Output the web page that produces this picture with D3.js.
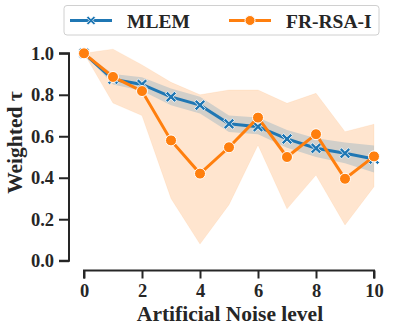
<!DOCTYPE html>
<html>
<head>
<meta charset="utf-8">
<script src="https://cdn.jsdelivr.net/npm/d3@7"></script>
<style>
  body { margin: 0; background: #fff; }
  svg { font-family: "Liberation Serif", "Times New Roman", serif; font-weight: bold; }
</style>
</head>
<body>
<svg id="chart" width="396" height="331"></svg>
<script>
// noise levels 0..10
var noise = [0, 1, 2, 3, 4, 5, 6, 7, 8, 9, 10];

var mlem = [1.0, 0.875, 0.85, 0.79, 0.75, 0.66, 0.646, 0.587, 0.542, 0.518, 0.49];
var mlemLo = [1.0, 0.85, 0.82, 0.75, 0.71, 0.62, 0.61, 0.545, 0.50, 0.47, 0.425];
var mlemHi = [1.0, 0.90, 0.885, 0.83, 0.79, 0.70, 0.69, 0.63, 0.59, 0.57, 0.555];

var frrsa = [1.0, 0.886, 0.818, 0.58, 0.42, 0.547, 0.69, 0.50, 0.61, 0.395, 0.503];
var frrsaLo = [1.0, 0.76, 0.70, 0.30, 0.08, 0.27, 0.558, 0.25, 0.413, 0.172, 0.357];
var frrsaHi = [1.0, 1.02, 0.944, 0.86, 0.80, 0.823, 0.823, 0.759, 0.807, 0.622, 0.658];

var xTicks = [0, 2, 4, 6, 8, 10];
var yTicks = [0.0, 0.2, 0.4, 0.6, 0.8, 1.0];

var blue = "#1f77b4", orange = "#ff7f0e", ink = "#262626";

var svg = d3.select("#chart");

var x = d3.scaleLinear().domain([0, 10]).range([84, 374]);
var y = d3.scaleLinear().domain([0, 1]).range([260.7, 53.3]);

// bands
var area = function(lo, hi) {
    return d3.area()
        .x(function(d, i) { return x(noise[i]); })
        .y0(function(d, i) { return y(lo[i]); })
        .y1(function(d, i) { return y(hi[i]); });
};

svg.append("path")
   .attr("d", area(frrsaLo, frrsaHi)(noise))
   .attr("fill", orange).attr("fill-opacity", 0.2)
   .attr("stroke", orange).attr("stroke-opacity", 0.08);

svg.append("path")
   .attr("d", area(mlemLo, mlemHi)(noise))
   .attr("fill", blue).attr("fill-opacity", 0.2);

var line = function(vals) {
    return d3.line()
        .x(function(d, i) { return x(noise[i]); })
        .y(function(d, i) { return y(vals[i]); })(noise);
};

// x marker path (filled X)
function xMarker(s) {
    var a = s, b = s * 0.38;
    return "M" + (-a) + "," + (-a + b) + " L" + (-a + b) + "," + (-a) + " L0," + (-b) +
           " L" + (a - b) + "," + (-a) + " L" + a + "," + (-a + b) + " L" + b + ",0" +
           " L" + a + "," + (a - b) + " L" + (a - b) + "," + a + " L0," + b +
           " L" + (-a + b) + "," + a + " L" + (-a) + "," + (a - b) + " L" + (-b) + ",0Z";
}

svg.append("path").attr("d", line(mlem))
   .attr("fill", "none").attr("stroke", blue).attr("stroke-width", 3);

svg.selectAll(".mx").data(mlem).enter().append("path")
   .attr("class", "mx")
   .attr("transform", function(d, i) { return "translate(" + x(noise[i]) + "," + y(d) + ")"; })
   .attr("d", xMarker(5.5))
   .attr("fill", blue).attr("stroke", "#fff").attr("stroke-width", 0.8);

svg.append("path").attr("d", line(frrsa))
   .attr("fill", "none").attr("stroke", orange).attr("stroke-width", 3);

svg.selectAll(".mo").data(frrsa).enter().append("circle")
   .attr("class", "mo")
   .attr("cx", function(d, i) { return x(noise[i]); })
   .attr("cy", function(d) { return y(d); })
   .attr("r", 5.5)
   .attr("fill", orange).attr("stroke", "#fff").attr("stroke-width", 1);

// axes
var yAxis = svg.append("g")
   .attr("transform", "translate(69,0)")
   .call(d3.axisLeft(y).tickValues(yTicks).tickFormat(d3.format(".1f")).tickSize(10).tickPadding(5));

var xAxis = svg.append("g")
   .attr("transform", "translate(0,270.5)")
   .call(d3.axisBottom(x).tickValues(xTicks).tickSize(8).tickPadding(5));

[yAxis, xAxis].forEach(function(g) {
    g.select(".domain").attr("stroke", ink).attr("stroke-width", 2);
    g.selectAll(".tick line").attr("stroke", ink).attr("stroke-width", 2);
    g.selectAll(".tick text").attr("fill", ink)
     .style("font-family", "'Liberation Serif', serif").style("font-weight", "bold").style("font-size", "18.5px");
});
yAxis.select(".domain").attr("d", "M-10," + y(1) + "H0V" + y(0) + "H-10");
xAxis.select(".domain").attr("d", "M" + x(0) + ",8V0H" + x(10) + "V8");

svg.append("text")
   .attr("x", 230).attr("y", 321)
   .attr("text-anchor", "middle")
   .attr("font-size", "21.5px").attr("fill", ink)
   .text("Artificial Noise level");

svg.append("text")
   .attr("transform", "translate(22,142.5) rotate(-90)")
   .attr("text-anchor", "middle")
   .attr("font-size", "21.5px").attr("fill", ink)
   .text("Weighted τ");

// legend
var leg = svg.append("g");
leg.append("rect")
   .attr("x", 64).attr("y", 5.5).attr("width", 315).attr("height", 29.5)
   .attr("rx", 3).attr("fill", "#fff").attr("stroke", "#d0d0d0").attr("stroke-width", 1);

var legItems = [
    { name: "MLEM", color: blue, marker: "x", x0: 70 },
    { name: "FR-RSA-I", color: orange, marker: "o", x0: 229 }
];
legItems.forEach(function(it) {
    leg.append("line")
       .attr("x1", it.x0).attr("x2", it.x0 + 42).attr("y1", 20.5).attr("y2", 20.5)
       .attr("stroke", it.color).attr("stroke-width", 3);
    if (it.marker === "x") {
        leg.append("path").attr("transform", "translate(" + (it.x0 + 21) + ",20.5)")
           .attr("d", xMarker(4.5)).attr("fill", it.color).attr("stroke", "#fff").attr("stroke-width", 0.8);
    } else {
        leg.append("circle").attr("cx", it.x0 + 21).attr("cy", 20.5).attr("r", 5)
           .attr("fill", it.color).attr("stroke", "#fff").attr("stroke-width", 1);
    }
    leg.append("text")
       .attr("x", it.x0 + 57).attr("y", 28)
       .attr("font-size", "19.5px").attr("fill", ink)
       .text(it.name);
});
</script>
</body>
</html>
